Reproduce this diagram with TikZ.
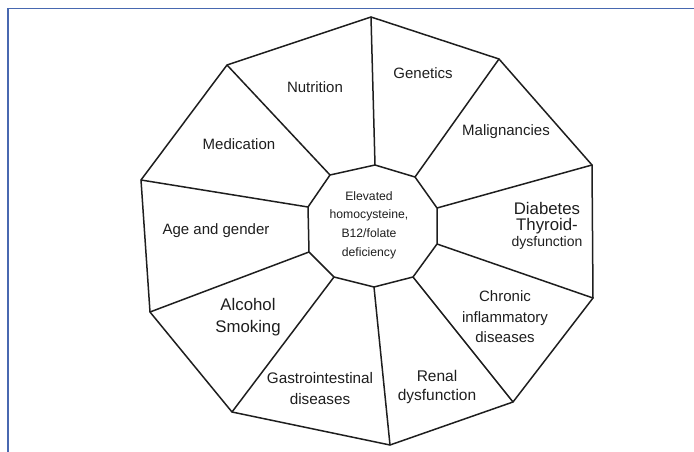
\documentclass[tikz,border=0pt]{standalone}
\usepackage{fontspec}
\setmainfont{Liberation Sans}
\usepackage[HTML]{xcolor}
\usepackage{tikz}
\definecolor{frameblue}{HTML}{4868B0}
\definecolor{inkgray}{HTML}{1E1E1E}
\tikzset{
  wedge/.style={line width=1.5pt, draw=inkgray, line join=miter},
  lbl/.style={inner sep=0pt, align=center, text=inkgray, font=\fontsize{15}{20.5}\selectfont},
  biglbl/.style={lbl, font=\fontsize{16.8}{22}\selectfont},
  hublbl/.style={lbl, font=\fontsize{12.2}{18.7}\selectfont}
}

\begin{document}
\begin{tikzpicture}[x=1pt,y=-1pt]
\useasboundingbox (0,0) rectangle (694,452);
% frame
\draw[frameblue, line width=1.6pt] (8,452) -- (8,8.5) -- (694,8.5);
% outer decagon corners
\coordinate (o1) at (371,17);
\coordinate (o2) at (499,59);
\coordinate (o3) at (592,165);
\coordinate (o4) at (593,298);
\coordinate (o5) at (513,402);
\coordinate (o6) at (390,445);
\coordinate (o7) at (232,412);
\coordinate (o8) at (150,312);
\coordinate (o9) at (141,180);
\coordinate (o10) at (227,65);
% inner decagon corners
\coordinate (i1) at (375,165);
\coordinate (i2) at (415,177);
\coordinate (i3) at (437,208);
\coordinate (i4) at (437,244);
\coordinate (i5) at (413,277);
\coordinate (i6) at (374,287);
\coordinate (i7) at (334,277);
\coordinate (i8) at (309,252);
\coordinate (i9) at (308,207);
\coordinate (i10) at (330,175);
% the two decagons
\draw[wedge] (o1) -- (o2) -- (o3) -- (o4) -- (o5) -- (o6) -- (o7) -- (o8) -- (o9) -- (o10) -- cycle;
\draw[wedge] (i1) -- (i2) -- (i3) -- (i4) -- (i5) -- (i6) -- (i7) -- (i8) -- (i9) -- (i10) -- cycle;
% spokes
\draw[wedge] (i1) -- (o1); \draw[wedge] (i2) -- (o2);
\draw[wedge] (i3) -- (o3); \draw[wedge] (i4) -- (o4);
\draw[wedge] (i5) -- (o5); \draw[wedge] (i6) -- (o6);
\draw[wedge] (i7) -- (o7); \draw[wedge] (i8) -- (o8);
\draw[wedge] (i9) -- (o9); \draw[wedge] (i10) -- (o10);
% hub
\node[hublbl] (hub) at (369,225) {Elevated\\homocysteine,\\B12/folate\\deficiency};
% segment labels
\node[lbl] (nutrition) at (315,87) {Nutrition};
\node[lbl] (genetics) at (423,73) {Genetics};
\node[lbl] (malignancies) at (506,132) {Malignancies};
\node[lbl, font=\fontsize{16.8}{16}\selectfont] (diabetes) at (547,226) {Diabetes\\Thyroid-\\{\fontsize{14}{16}\selectfont dysfunction}};
\node[lbl] (chronic) at (505,317) {Chronic\\inflammatory\\diseases};
\node[lbl, font=\fontsize{15.5}{19}\selectfont] (renal) at (437,387) {Renal\\dysfunction};
\node[lbl, font=\fontsize{15.3}{21}\selectfont] (gastro) at (320,389) {Gastrointestinal\\diseases};
\node[biglbl] (alcohol) at (248,317) {Alcohol\\Smoking};
\node[lbl] (agegender) at (216,231) {Age and gender};
\node[lbl] (medication) at (239,144) {Medication};
\end{tikzpicture}
\end{document}
